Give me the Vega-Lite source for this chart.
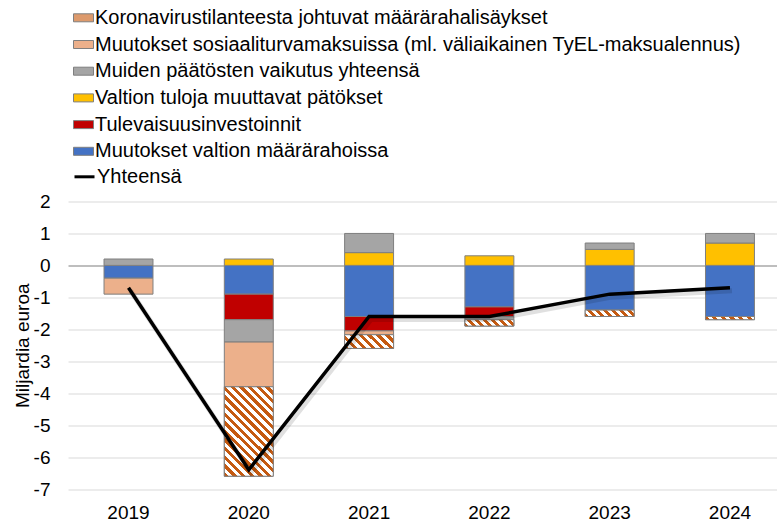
{
  "$schema": "https://vega.github.io/schema/vega-lite/v6.json",
  "width": 709,
  "height": 287.5,
  "autosize": {"type": "none"},
  "padding": {"left": 68, "top": 201.5, "right": 0, "bottom": 32},
  "background": "white",
  "datasets": {
    "parts": [
      {"year": "2019", "series": "Muutokset valtion määrärahoissa", "value": -0.4},
      {"year": "2019", "series": "Muiden päätösten vaikutus yhteensä", "value": 0.2},
      {"year": "2019", "series": "Muutokset sosiaaliturvamaksuissa (ml. väliaikainen TyEL-maksualennus)", "value": -0.5},
      {"year": "2020", "series": "Muutokset valtion määrärahoissa", "value": -0.9},
      {"year": "2020", "series": "Tulevaisuusinvestoinnit", "value": -0.8},
      {"year": "2020", "series": "Valtion tuloja muuttavat pätökset", "value": 0.2},
      {"year": "2020", "series": "Muiden päätösten vaikutus yhteensä", "value": -0.7},
      {"year": "2020", "series": "Muutokset sosiaaliturvamaksuissa (ml. väliaikainen TyEL-maksualennus)", "value": -1.4},
      {"year": "2020", "series": "Koronavirustilanteesta johtuvat määrärahalisäykset", "value": -2.8},
      {"year": "2021", "series": "Muutokset valtion määrärahoissa", "value": -1.6},
      {"year": "2021", "series": "Tulevaisuusinvestoinnit", "value": -0.45},
      {"year": "2021", "series": "Valtion tuloja muuttavat pätökset", "value": 0.4},
      {"year": "2021", "series": "Muiden päätösten vaikutus yhteensä", "value": 0.6},
      {"year": "2021", "series": "Muutokset sosiaaliturvamaksuissa (ml. väliaikainen TyEL-maksualennus)", "value": -0.12},
      {"year": "2021", "series": "Koronavirustilanteesta johtuvat määrärahalisäykset", "value": -0.43},
      {"year": "2022", "series": "Muutokset valtion määrärahoissa", "value": -1.3},
      {"year": "2022", "series": "Tulevaisuusinvestoinnit", "value": -0.3},
      {"year": "2022", "series": "Valtion tuloja muuttavat pätökset", "value": 0.3},
      {"year": "2022", "series": "Muiden päätösten vaikutus yhteensä", "value": -0.1},
      {"year": "2022", "series": "Koronavirustilanteesta johtuvat määrärahalisäykset", "value": -0.2},
      {"year": "2023", "series": "Muutokset valtion määrärahoissa", "value": -1.4},
      {"year": "2023", "series": "Valtion tuloja muuttavat pätökset", "value": 0.5},
      {"year": "2023", "series": "Muiden päätösten vaikutus yhteensä", "value": 0.2},
      {"year": "2023", "series": "Koronavirustilanteesta johtuvat määrärahalisäykset", "value": -0.2},
      {"year": "2024", "series": "Muutokset valtion määrärahoissa", "value": -1.6},
      {"year": "2024", "series": "Valtion tuloja muuttavat pätökset", "value": 0.7},
      {"year": "2024", "series": "Muiden päätösten vaikutus yhteensä", "value": 0.3},
      {"year": "2024", "series": "Koronavirustilanteesta johtuvat määrärahalisäykset", "value": -0.1}
    ],
    "totals": [
      {"year": "2019", "total": -0.7},
      {"year": "2020", "total": -6.4},
      {"year": "2021", "total": -1.6},
      {"year": "2022", "total": -1.6},
      {"year": "2023", "total": -0.9},
      {"year": "2024", "total": -0.7}
    ]
  },
  "layer": [
    {
      "data": {"name": "parts"},
      "transform": [{"stack": "value", "groupby": ["year"], "as": ["v0", "v1"]}],
      "mark": {"type": "bar", "stroke": "#7f7f7f", "strokeWidth": 1},
      "encoding": {
        "x": {
          "field": "year", "type": "ordinal",
          "scale": {"paddingInner": 0.593, "paddingOuter": 0.2435, "align": 0.615},
          "axis": {"title": null, "labelAngle": 0, "labelFontSize": 19, "labelPadding": 14, "domain": false, "ticks": false, "grid": false}
        },
        "y": {
          "field": "v0", "type": "quantitative",
          "scale": {"domain": [-7, 2], "nice": false, "zero": false},
          "axis": {
            "title": "Miljardia euroa",
            "values": [-7, -6, -5, -4, -3, -2, -1, 0, 1, 2],
            "tickCount": 20,
            "labelExpr": "datum.value + ''",
            "labelOverlap": false,
            "grid": true,
            "gridColor": {"condition": {"test": "datum.value === 0", "value": "#7f7f7f"}, "value": "#d9d9d9"},
            "gridWidth": 1.2,
            "labelFontSize": 19,
            "labelPadding": 18,
            "titleFontSize": 19,
            "titleFontWeight": "normal",
            "titlePadding": 1,
            "domain": false,
            "ticks": false
          }
        },
        "y2": {"field": "v1"},
        "color": {
          "field": "series", "type": "nominal",
          "scale": {
            "domain": [
              "Koronavirustilanteesta johtuvat määrärahalisäykset",
              "Muutokset sosiaaliturvamaksuissa (ml. väliaikainen TyEL-maksualennus)",
              "Muiden päätösten vaikutus yhteensä",
              "Valtion tuloja muuttavat pätökset",
              "Tulevaisuusinvestoinnit",
              "Muutokset valtion määrärahoissa"
            ],
            "range": ["#dd9a6c", "#ecb08b", "#a5a5a5", "#ffc000", "#c00000", "#4472c4"]
          },
          "legend": {
            "orient": "none",
            "legendX": 5,
            "legendY": -194.2,
            "direction": "vertical",
            "title": null,
            "labelFontSize": 20,
            "labelColor": "#000000",
            "labelOffset": 1,
            "labelLimit": 900,
            "symbolSize": 400,
            "symbolType": "M-1,-0.4H1V0.4H-1Z",
            "symbolStrokeColor": "#7f7f7f",
            "symbolStrokeWidth": 1,
            "rowPadding": 5.7,
            "padding": 0
          }
        }
      }
    },
    {
      "data": {"name": "parts"},
      "transform": [
        {"stack": "value", "groupby": ["year"], "as": ["v0", "v1"]},
        {"filter": "datum.series === 'Koronavirustilanteesta johtuvat määrärahalisäykset' && datum.year === '2020'"}
      ],
      "mark": {"type": "bar", "stroke": "#7f7f7f", "strokeWidth": 1,
        "fill": {"gradient": "linear", "x1": 0, "y1": 1, "x2": 0.651, "y2": -0.191, "stops": [
          {"offset": 0, "color": "#c55a11"}, {"offset": 0.03125, "color": "#c55a11"}, {"offset": 0.03125, "color": "#ffffff"}, {"offset": 0.0625, "color": "#ffffff"},
          {"offset": 0.0625, "color": "#c55a11"}, {"offset": 0.09375, "color": "#c55a11"}, {"offset": 0.09375, "color": "#ffffff"}, {"offset": 0.125, "color": "#ffffff"},
          {"offset": 0.125, "color": "#c55a11"}, {"offset": 0.15625, "color": "#c55a11"}, {"offset": 0.15625, "color": "#ffffff"}, {"offset": 0.1875, "color": "#ffffff"},
          {"offset": 0.1875, "color": "#c55a11"}, {"offset": 0.21875, "color": "#c55a11"}, {"offset": 0.21875, "color": "#ffffff"}, {"offset": 0.25, "color": "#ffffff"},
          {"offset": 0.25, "color": "#c55a11"}, {"offset": 0.28125, "color": "#c55a11"}, {"offset": 0.28125, "color": "#ffffff"}, {"offset": 0.3125, "color": "#ffffff"},
          {"offset": 0.3125, "color": "#c55a11"}, {"offset": 0.34375, "color": "#c55a11"}, {"offset": 0.34375, "color": "#ffffff"}, {"offset": 0.375, "color": "#ffffff"},
          {"offset": 0.375, "color": "#c55a11"}, {"offset": 0.40625, "color": "#c55a11"}, {"offset": 0.40625, "color": "#ffffff"}, {"offset": 0.4375, "color": "#ffffff"},
          {"offset": 0.4375, "color": "#c55a11"}, {"offset": 0.46875, "color": "#c55a11"}, {"offset": 0.46875, "color": "#ffffff"}, {"offset": 0.5, "color": "#ffffff"},
          {"offset": 0.5, "color": "#c55a11"}, {"offset": 0.53125, "color": "#c55a11"}, {"offset": 0.53125, "color": "#ffffff"}, {"offset": 0.5625, "color": "#ffffff"},
          {"offset": 0.5625, "color": "#c55a11"}, {"offset": 0.59375, "color": "#c55a11"}, {"offset": 0.59375, "color": "#ffffff"}, {"offset": 0.625, "color": "#ffffff"},
          {"offset": 0.625, "color": "#c55a11"}, {"offset": 0.65625, "color": "#c55a11"}, {"offset": 0.65625, "color": "#ffffff"}, {"offset": 0.6875, "color": "#ffffff"},
          {"offset": 0.6875, "color": "#c55a11"}, {"offset": 0.71875, "color": "#c55a11"}, {"offset": 0.71875, "color": "#ffffff"}, {"offset": 0.75, "color": "#ffffff"},
          {"offset": 0.75, "color": "#c55a11"}, {"offset": 0.78125, "color": "#c55a11"}, {"offset": 0.78125, "color": "#ffffff"}, {"offset": 0.8125, "color": "#ffffff"},
          {"offset": 0.8125, "color": "#c55a11"}, {"offset": 0.84375, "color": "#c55a11"}, {"offset": 0.84375, "color": "#ffffff"}, {"offset": 0.875, "color": "#ffffff"},
          {"offset": 0.875, "color": "#c55a11"}, {"offset": 0.90625, "color": "#c55a11"}, {"offset": 0.90625, "color": "#ffffff"}, {"offset": 0.9375, "color": "#ffffff"},
          {"offset": 0.9375, "color": "#c55a11"}, {"offset": 0.96875, "color": "#c55a11"}, {"offset": 0.96875, "color": "#ffffff"}, {"offset": 1, "color": "#ffffff"}
        ]}
      },
      "encoding": {
        "x": {"field": "year", "type": "ordinal"},
        "y": {"field": "v0", "type": "quantitative", "title": "Miljardia euroa"},
        "y2": {"field": "v1"}
      }
    },
    {
      "data": {"name": "parts"},
      "transform": [
        {"stack": "value", "groupby": ["year"], "as": ["v0", "v1"]},
        {"filter": "datum.series === 'Koronavirustilanteesta johtuvat määrärahalisäykset' && datum.year === '2021'"}
      ],
      "mark": {"type": "bar", "stroke": "#7f7f7f", "strokeWidth": 1,
        "fill": {"gradient": "linear", "x1": 0, "y1": 1, "x2": 1.188, "y2": 0.665, "stops": [
          {"offset": 0, "color": "#c55a11"}, {"offset": 0.071429, "color": "#c55a11"}, {"offset": 0.071429, "color": "#ffffff"}, {"offset": 0.142857, "color": "#ffffff"},
          {"offset": 0.142857, "color": "#c55a11"}, {"offset": 0.214286, "color": "#c55a11"}, {"offset": 0.214286, "color": "#ffffff"}, {"offset": 0.285714, "color": "#ffffff"},
          {"offset": 0.285714, "color": "#c55a11"}, {"offset": 0.357143, "color": "#c55a11"}, {"offset": 0.357143, "color": "#ffffff"}, {"offset": 0.428571, "color": "#ffffff"},
          {"offset": 0.428571, "color": "#c55a11"}, {"offset": 0.5, "color": "#c55a11"}, {"offset": 0.5, "color": "#ffffff"}, {"offset": 0.571429, "color": "#ffffff"},
          {"offset": 0.571429, "color": "#c55a11"}, {"offset": 0.642857, "color": "#c55a11"}, {"offset": 0.642857, "color": "#ffffff"}, {"offset": 0.714286, "color": "#ffffff"},
          {"offset": 0.714286, "color": "#c55a11"}, {"offset": 0.785714, "color": "#c55a11"}, {"offset": 0.785714, "color": "#ffffff"}, {"offset": 0.857143, "color": "#ffffff"},
          {"offset": 0.857143, "color": "#c55a11"}, {"offset": 0.928571, "color": "#c55a11"}, {"offset": 0.928571, "color": "#ffffff"}, {"offset": 1, "color": "#ffffff"}
        ]}
      },
      "encoding": {
        "x": {"field": "year", "type": "ordinal"},
        "y": {"field": "v0", "type": "quantitative", "title": "Miljardia euroa"},
        "y2": {"field": "v1"}
      }
    },
    {
      "data": {"name": "parts"},
      "transform": [
        {"stack": "value", "groupby": ["year"], "as": ["v0", "v1"]},
        {"filter": "datum.series === 'Koronavirustilanteesta johtuvat määrärahalisäykset' && (datum.year === '2022' || datum.year === '2023')"}
      ],
      "mark": {"type": "bar", "stroke": "#7f7f7f", "strokeWidth": 1,
        "fill": {"gradient": "linear", "x1": 0, "y1": 1, "x2": 1.111, "y2": 0.855, "stops": [
          {"offset": 0, "color": "#c55a11"}, {"offset": 0.071429, "color": "#c55a11"}, {"offset": 0.071429, "color": "#ffffff"}, {"offset": 0.142857, "color": "#ffffff"},
          {"offset": 0.142857, "color": "#c55a11"}, {"offset": 0.214286, "color": "#c55a11"}, {"offset": 0.214286, "color": "#ffffff"}, {"offset": 0.285714, "color": "#ffffff"},
          {"offset": 0.285714, "color": "#c55a11"}, {"offset": 0.357143, "color": "#c55a11"}, {"offset": 0.357143, "color": "#ffffff"}, {"offset": 0.428571, "color": "#ffffff"},
          {"offset": 0.428571, "color": "#c55a11"}, {"offset": 0.5, "color": "#c55a11"}, {"offset": 0.5, "color": "#ffffff"}, {"offset": 0.571429, "color": "#ffffff"},
          {"offset": 0.571429, "color": "#c55a11"}, {"offset": 0.642857, "color": "#c55a11"}, {"offset": 0.642857, "color": "#ffffff"}, {"offset": 0.714286, "color": "#ffffff"},
          {"offset": 0.714286, "color": "#c55a11"}, {"offset": 0.785714, "color": "#c55a11"}, {"offset": 0.785714, "color": "#ffffff"}, {"offset": 0.857143, "color": "#ffffff"},
          {"offset": 0.857143, "color": "#c55a11"}, {"offset": 0.928571, "color": "#c55a11"}, {"offset": 0.928571, "color": "#ffffff"}, {"offset": 1, "color": "#ffffff"}
        ]}
      },
      "encoding": {
        "x": {"field": "year", "type": "ordinal"},
        "y": {"field": "v0", "type": "quantitative", "title": "Miljardia euroa"},
        "y2": {"field": "v1"}
      }
    },
    {
      "data": {"name": "parts"},
      "transform": [
        {"stack": "value", "groupby": ["year"], "as": ["v0", "v1"]},
        {"filter": "datum.series === 'Koronavirustilanteesta johtuvat määrärahalisäykset' && datum.year === '2024'"}
      ],
      "mark": {"type": "bar", "stroke": "#7f7f7f", "strokeWidth": 1,
        "fill": {"gradient": "linear", "x1": 0, "y1": 1, "x2": 1.061, "y2": 0.931, "stops": [
          {"offset": 0, "color": "#c55a11"}, {"offset": 0.083333, "color": "#c55a11"}, {"offset": 0.083333, "color": "#ffffff"}, {"offset": 0.166667, "color": "#ffffff"},
          {"offset": 0.166667, "color": "#c55a11"}, {"offset": 0.25, "color": "#c55a11"}, {"offset": 0.25, "color": "#ffffff"}, {"offset": 0.333333, "color": "#ffffff"},
          {"offset": 0.333333, "color": "#c55a11"}, {"offset": 0.416667, "color": "#c55a11"}, {"offset": 0.416667, "color": "#ffffff"}, {"offset": 0.5, "color": "#ffffff"},
          {"offset": 0.5, "color": "#c55a11"}, {"offset": 0.583333, "color": "#c55a11"}, {"offset": 0.583333, "color": "#ffffff"}, {"offset": 0.666667, "color": "#ffffff"},
          {"offset": 0.666667, "color": "#c55a11"}, {"offset": 0.75, "color": "#c55a11"}, {"offset": 0.75, "color": "#ffffff"}, {"offset": 0.833333, "color": "#ffffff"},
          {"offset": 0.833333, "color": "#c55a11"}, {"offset": 0.916667, "color": "#c55a11"}, {"offset": 0.916667, "color": "#ffffff"}, {"offset": 1, "color": "#ffffff"}
        ]}
      },
      "encoding": {
        "x": {"field": "year", "type": "ordinal"},
        "y": {"field": "v0", "type": "quantitative", "title": "Miljardia euroa"},
        "y2": {"field": "v1"}
      }
    },
    {
      "data": {"name": "totals"},
      "mark": {"type": "line", "stroke": "#000000", "strokeWidth": 5, "opacity": 0.12, "xOffset": 2, "yOffset": 3},
      "encoding": {
        "x": {"field": "year", "type": "ordinal"},
        "y": {"field": "total", "type": "quantitative", "title": "Miljardia euroa"}
      }
    },
    {
      "data": {"name": "totals"},
      "mark": {"type": "line", "strokeWidth": 3.5},
      "encoding": {
        "x": {"field": "year", "type": "ordinal"},
        "y": {"field": "total", "type": "quantitative", "title": "Miljardia euroa"},
        "stroke": {
          "datum": "Yhteensä", "type": "nominal",
          "scale": {"domain": ["Yhteensä"], "range": ["#000000"]},
          "legend": {
            "orient": "none",
            "legendX": 5,
            "legendY": -36.2,
            "title": null,
            "labelFontSize": 20,
            "labelColor": "#000000",
            "labelOffset": 1,
            "symbolSize": 400,
            "symbolType": "stroke",
            "symbolStrokeWidth": 3,
            "padding": 0
          }
        }
      }
    }
  ],
  "config": {
    "view": {"stroke": null},
    "font": "Liberation Sans",
    "axis": {"labelColor": "#000000", "titleColor": "#000000", "labelFont": "Liberation Sans", "titleFont": "Liberation Sans"},
    "legend": {"labelFont": "Liberation Sans"}
  }
}
